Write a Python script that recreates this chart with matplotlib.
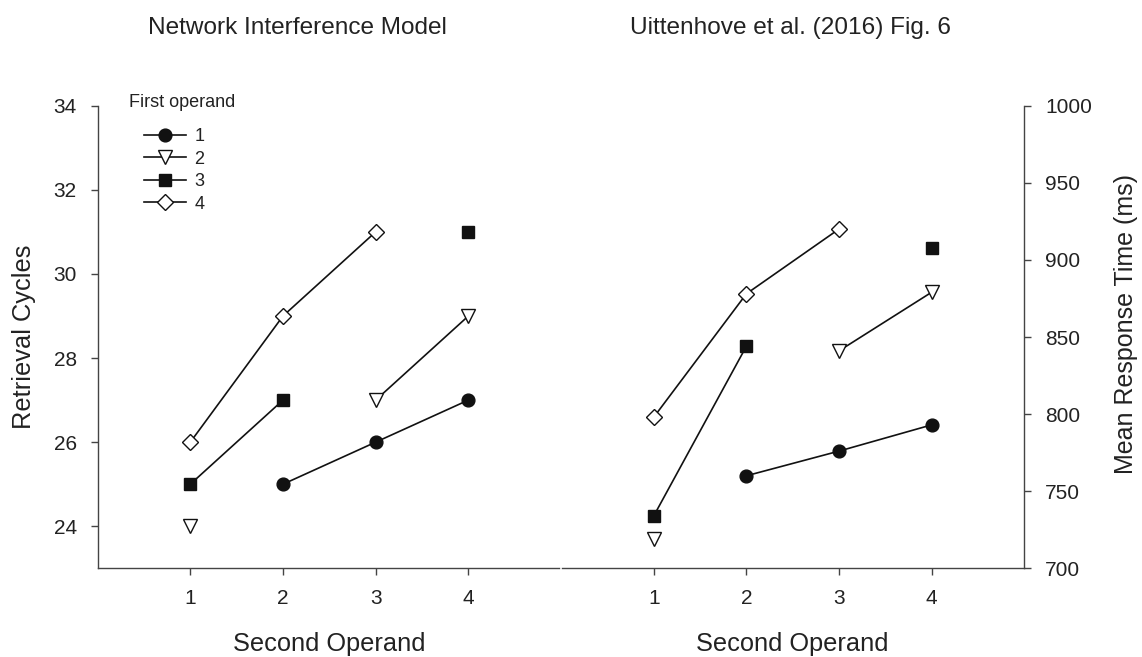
import matplotlib
matplotlib.use('Agg')
from matplotlib import pyplot as plt
import numpy as np

plt.rcParams['font.family'] = ['Liberation Sans', 'DejaVu Sans']

nan = np.nan
second_operand = [1, 2, 3, 4]
first_operand = ['1', '2', '3', '4']

# Network Interference Model (retrieval cycles)
model_op1 = [nan, 25, 26, 27]
model_op2 = [24, nan, 27, 29]
model_op3 = [25, 27, nan, 31]
model_op4 = [26, 29, 31, nan]

# Uittenhove et al. (2016) Fig. 6 (mean RT, ms)
rt_op1 = [nan, 760, 776, 793]
rt_op2 = [719, nan, 841, 879]
rt_op3 = [734, 844, nan, 908]
rt_op4 = [798, 878, 920, nan]

ink = '#111111'
spine_col = '#444444'
text_col = '#222222'

styles = [
    dict(marker='o', ms=9.2, mfc=ink, mec=ink),
    dict(marker='v', ms=10.2, mfc='white', mec=ink),
    dict(marker='s', ms=8.6, mfc=ink, mec=ink),
    dict(marker='D', ms=8.2, mfc='white', mec=ink),
]

fig = plt.figure(figsize=(11.42, 6.57), dpi=100)
ax1 = fig.add_axes([0.0855, 0.135, 0.4058, 0.7041])
ax2 = fig.add_axes([0.4914, 0.135, 0.4054, 0.7041])

handles = []
for ys, st, lab in zip([model_op1, model_op2, model_op3, model_op4], styles, first_operand):
    h, = ax1.plot(second_operand, ys, color=ink, lw=1.2, mew=1.0, label=lab, **st)
    handles.append(h)
for ys, st in zip([rt_op1, rt_op2, rt_op3, rt_op4], styles):
    ax2.plot(second_operand, ys, color=ink, lw=1.2, mew=1.0, **st)

for ax in (ax1, ax2):
    ax.set_xlim(0, 5)
    ax.set_xticks(second_operand)
    ax.spines['top'].set_visible(False)
    for s in ax.spines.values():
        s.set_color(spine_col)
        s.set_linewidth(1.0)
    ax.tick_params(direction='out', length=5, width=1.0, color=spine_col,
                   labelsize=15, labelcolor=text_col, pad=10)
    ax.set_xlabel('Second Operand', fontsize=18.3, color=text_col, labelpad=17)

ax1.set_ylim(23, 34)
ax1.set_yticks([24, 26, 28, 30, 32, 34])
ax1.spines['right'].set_visible(False)
ax1.spines['bottom'].set_bounds(0, 4.98)

ax2.set_ylim(700, 1000)
ax2.set_yticks([700, 750, 800, 850, 900, 950, 1000])
ax2.spines['left'].set_visible(False)
ax2.spines['bottom'].set_bounds(0.01, 5)
ax2.yaxis.tick_right()

fig.text(0.0206, 0.487, 'Retrieval Cycles', fontsize=18.3, color=text_col,
         rotation=90, ha='center', va='center')
fig.text(0.986, 0.5076, 'Mean Response Time (ms)', fontsize=18, color=text_col,
         rotation=90, ha='center', va='center')

ax1.text(0.068, 1.025, 'First operand', transform=ax1.transAxes, fontsize=13,
         color=text_col, ha='left', va='top')
ax1.legend(handles=handles, loc='upper left', bbox_to_anchor=(0.100, 0.951),
           frameon=False, fontsize=13, handlelength=2.3, handletextpad=0.5,
           labelspacing=0.3, borderpad=0, borderaxespad=0, labelcolor=text_col)

fig.text(0.2605, 0.957, 'Network Interference Model', fontsize=17.6,
         color=text_col, ha='center', va='center')
fig.text(0.6925, 0.957, 'Uittenhove et al. (2016) Fig. 6', fontsize=17.6,
         color=text_col, ha='center', va='center')

fig.savefig('out.png', dpi=100)
